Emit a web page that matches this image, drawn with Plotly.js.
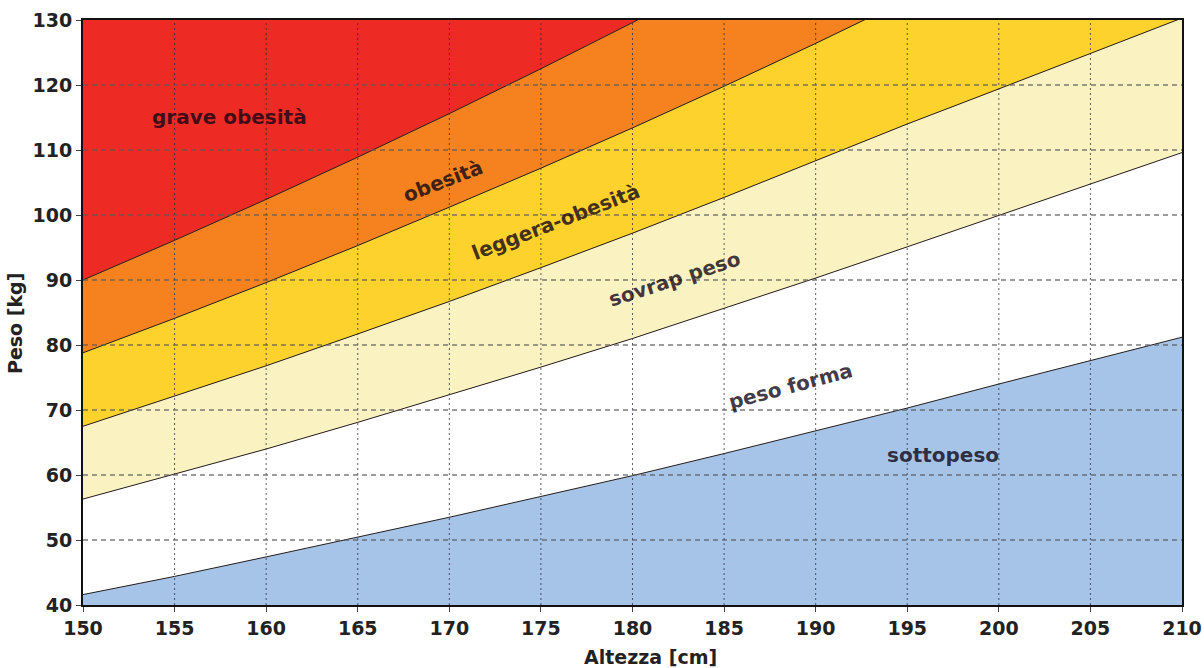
<!DOCTYPE html>
<html><head><meta charset="utf-8">
<script src="https://cdn.plot.ly/plotly-3.0.1.min.js"></script>
<style>html,body{margin:0;padding:0;background:#fff}#c{width:1204px;height:668px}</style>
</head><body><div id="c"></div>
<script>
// Heights (cm)
var altezza = [150,155,160,165,170,175,180,185,190,195,200,205,210];
// Upper boundary (kg) of each zone
var sottopeso     = [41.6,44.4,47.4,50.4,53.5,56.7,59.9,63.3,66.8,70.3,74.0,77.6,81.2];
var pesoForma     = [56.3,60.1,64.0,68.1,72.3,76.6,81.0,85.6,90.3,95.1,99.9,104.7,109.6];
var sovrapPeso    = [67.5,72.1,76.8,81.7,86.7,91.9,97.2,102.7,108.3,114.0,119.4,124.8,130.3];
var leggeraObes   = [78.8,84.1,89.6,95.3,101.2,107.2,113.4,119.8,126.4,133.1,140.0,147.1,154.4];
var obesita       = [90.0,96.1,102.4,108.9,115.6,122.5,129.6,136.9,144.4,152.1,160.0,168.1,176.4];
var xTicks = [150,155,160,165,170,175,180,185,190,195,200,205,210];
var yTicks = [40,50,60,70,80,90,100,110,120,130];

var zoneColors = ['#a6c3e8','#ffffff','#fbf2c2','#fdd22c','#f5821f'];
var series = [sottopeso,pesoForma,sovrapPeso,leggeraObes,obesita];
var traces = series.map(function(s,i){
  return {x:altezza, y:s, type:'scatter', mode:'lines',
    line:{color:'#222', width:1}, fill: i===0?'tozeroy':'tonexty',
    fillcolor: zoneColors[i], hoverinfo:'skip', showlegend:false};
});

var shapes = [];
xTicks.forEach(function(v){
  if (v===150||v===210) return;
  shapes.push({type:'line', xref:'x', yref:'paper', x0:v, x1:v, y0:0, y1:1, layer:'above',
    line:{color:'rgba(40,40,60,0.75)', width:1, dash:'2px,3px'}});
});
yTicks.forEach(function(v){
  if (v===40||v===130) return;
  shapes.push({type:'line', xref:'paper', yref:'y', x0:0, x1:1, y0:v, y1:v, layer:'above',
    line:{color:'rgba(90,90,90,0.8)', width:1.5, dash:'5px,4px'}});
});

var labels = [
  {t:'grave obesità', x:158.0, y:115.1, a:0},
  {t:'obesità', x:169.65, y:105.3, a:-21},
  {t:'leggera-obesità', x:175.8, y:98.9, a:-21},
  {t:'sovrap peso', x:182.3, y:90.2, a:-18},
  {t:'peso forma', x:188.65, y:73.7, a:-15},
  {t:'sottopeso', x:196.95, y:63.1, a:0}
];
var annotations = labels.map(function(l){
  return {text:'<b>'+l.t+'</b>', x:l.x, y:l.y, xref:'x', yref:'y', showarrow:false, textangle:l.a,
    font:{family:'DejaVu Sans', size:20, color:'rgba(15,5,20,0.8)'}};
});
annotations.push({text:'<b>Altezza [cm]</b>', xref:'paper', yref:'paper', x:(650-83)/1099, y:-(657-605)/585,
  xanchor:'center', yanchor:'middle',
  showarrow:false, font:{family:'DejaVu Sans', size:19, color:'#222'}});
annotations.push({text:'<b>Peso [kg]</b>', xref:'paper', yref:'paper', x:-(83-15)/1099, y:(605-324)/585,
  xanchor:'center', yanchor:'middle',
  showarrow:false, textangle:-90, font:{family:'DejaVu Sans', size:19, color:'#222'}});

var layout = {
  width:1204, height:668,
  margin:{l:83, r:22, t:20, b:63},
  paper_bgcolor:'#ffffff', plot_bgcolor:'#ee2a24',
  font:{family:'DejaVu Sans', color:'#222'},
  xaxis:{range:[150,210], tickvals:xTicks, ticktext:xTicks.map(function(v){return '<b>'+v+'</b>';}), showgrid:false, zeroline:false,
    showline:true, mirror:true, linecolor:'#111', linewidth:2, ticks:'outside', ticklen:5, tickcolor:'#444',
    tickfont:{size:19, color:'#222'}, layer:'above traces'},
  yaxis:{range:[40,130], tickvals:yTicks, ticktext:yTicks.map(function(v){return '<b>'+v+'</b>';}), showgrid:false, zeroline:false,
    showline:true, mirror:true, linecolor:'#111', linewidth:2, ticks:'outside', ticklen:5, tickcolor:'#444',
    tickfont:{size:19, color:'#222'}, layer:'above traces'},
  shapes:shapes, annotations:annotations
};
Plotly.newPlot('c', traces, layout, {staticPlot:true, displayModeBar:false});
</script></body></html>
